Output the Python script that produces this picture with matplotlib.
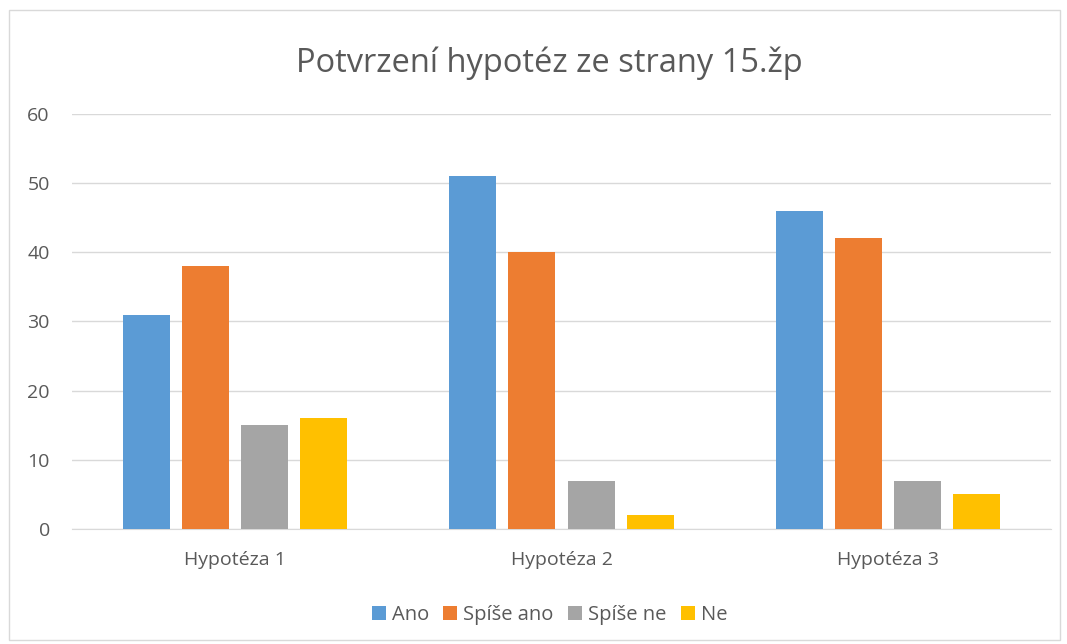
import matplotlib
matplotlib.use("Agg")
import matplotlib.pyplot as plt
import numpy as np
from matplotlib.patches import Rectangle

categories = ["Hypotéza 1", "Hypotéza 2", "Hypotéza 3"]
series_names = ["Ano", "Spíše ano", "Spíše ne", "Ne"]
ano = [31, 51, 46]
spise_ano = [38, 40, 42]
spise_ne = [15, 7, 7]
ne = [16, 2, 5]
colors = ["#5B9BD5", "#ED7D31", "#A5A5A5", "#FFC000"]
yticks = [0, 10, 20, 30, 40, 50, 60]

TEXT = "#595959"
plt.rcParams["font.family"] = ["Open Sans", "DejaVu Sans"]

fig = plt.figure(figsize=(10.67, 6.44), dpi=100)
fig.patches.append(Rectangle((0.008, 0.006), 0.985, 0.978, transform=fig.transFigure,
                             fill=False, edgecolor="#D9D9D9", linewidth=1.0))
ax = fig.add_axes([0.0675, 0.1786, 0.9175, 0.6444])

x = np.arange(len(categories))
width = 0.144
step = 0.181
for i, (name, vals) in enumerate(zip(series_names, [ano, spise_ano, spise_ne, ne])):
    ax.bar(x + (i - 1.5) * step, vals, width, color=colors[i], label=name, zorder=3)

ax.set_xlim(-0.5, len(categories) - 0.5)
ax.set_ylim(0, 60)
ax.set_yticks(yticks)
ax.yaxis.grid(True, color="#D9D9D9", linewidth=1.0, zorder=0)
ax.set_xticks(x)
ax.set_xticklabels(categories)
ax.tick_params(axis="both", length=0, colors=TEXT, labelsize=14)
ax.tick_params(axis="x", pad=16)
ax.tick_params(axis="y", pad=16)
for s in ["top", "right", "left"]:
    ax.spines[s].set_visible(False)
ax.spines["bottom"].set_color("#D9D9D9")

fig.text(0.515, 0.902, "Potvrzení hypotéz ze strany 15.žp", ha="center", va="center",
         fontsize=23.5, color=TEXT)

fig.legend(loc="center", bbox_to_anchor=(0.515, 0.045), ncol=4, frameon=False,
           fontsize=14.5, handlelength=0.7, handleheight=0.7, handletextpad=0.3,
           columnspacing=0.7, labelcolor=TEXT)

fig.savefig("out.png", dpi=100)
